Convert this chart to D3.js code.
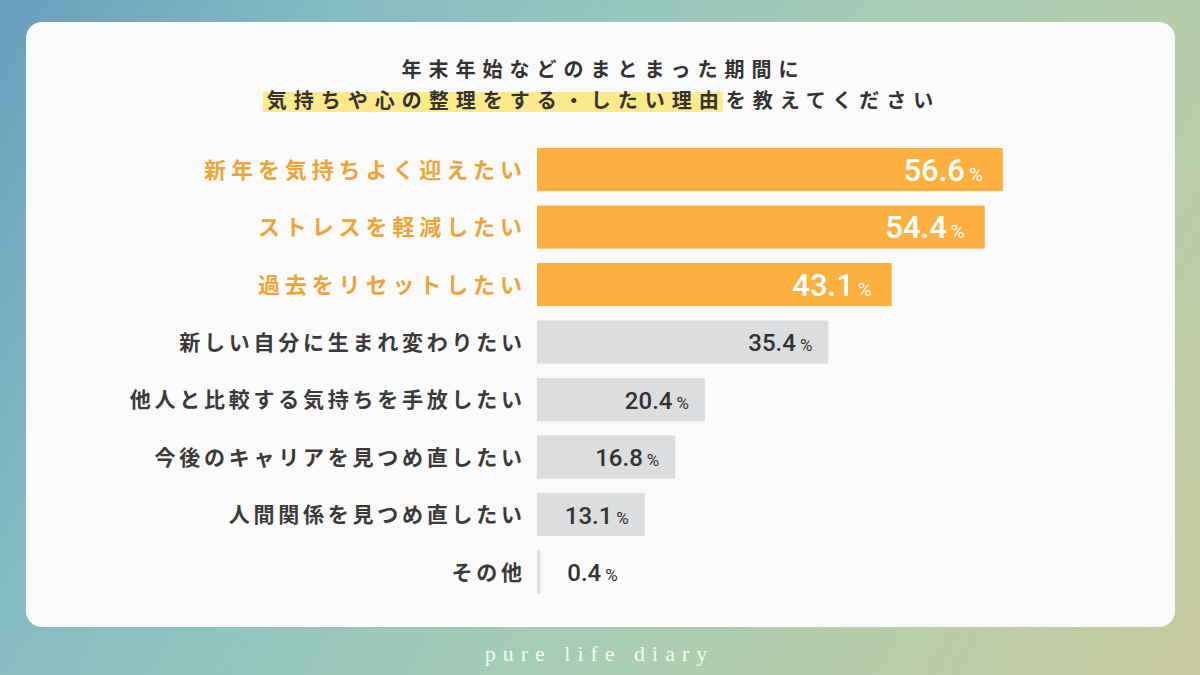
<!DOCTYPE html>
<html><head><meta charset="utf-8">
<script src="https://cdn.jsdelivr.net/npm/d3@7"></script>
<style>
html,body{margin:0;padding:0;width:1200px;height:675px;overflow:hidden;}
svg{display:block;}
</style></head>
<body>
<svg id="chart" width="1200" height="675"></svg>
<script>
const titleLine1 = "年末年始などのまとまった期間に";
const titleHighlight = "気持ちや心の整理をする・したい理由";
const titleRest = "を教えてください";
const categories = [
  "新年を気持ちよく迎えたい",
  "ストレスを軽減したい",
  "過去をリセットしたい",
  "新しい自分に生まれ変わりたい",
  "他人と比較する気持ちを手放したい",
  "今後のキャリアを見つめ直したい",
  "人間関係を見つめ直したい",
  "その他"
];
const values = [56.6, 54.4, 43.1, 35.4, 20.4, 16.8, 13.1, 0.4];
const highlighted = [true, true, true, false, false, false, false, false];
const footerText = "pure life diary";

const svg = d3.select("#chart");
const defs = svg.append("defs");
const bg = defs.append("linearGradient").attr("id","bg")
  .attr("gradientUnits","userSpaceOnUse").attr("x1",0).attr("y1",0).attr("x2",1200).attr("y2",675);
[[0,"#6a9dbd"],[0.22,"#86bcc4"],[0.4,"#96c6bd"],[0.6,"#a8cdb4"],[0.78,"#b6cda9"],[1,"#c7c99b"]]
  .forEach(([o,c])=>bg.append("stop").attr("offset",o).attr("stop-color",c));
svg.append("rect").attr("width",1200).attr("height",675).attr("fill","url(#bg)");

// card
svg.append("rect").attr("x",26).attr("y",22).attr("width",1149).attr("height",605)
  .attr("rx",16).attr("fill","#fafafa");

// title
const tFont = "'Noto Sans CJK JP', sans-serif";
svg.append("text").attr("x",600+3.5).attr("y",77).attr("text-anchor","middle")
  .attr("font-family",tFont).attr("font-weight",700).attr("font-size",20)
  .attr("letter-spacing",7).attr("fill","#333").text(titleLine1);
const hlG = svg.append("g");
const t2 = svg.append("text").attr("x",600+3.5).attr("y",108).attr("text-anchor","middle")
  .attr("font-family",tFont).attr("font-weight",700).attr("font-size",20)
  .attr("letter-spacing",7).attr("fill","#333").text(titleHighlight + titleRest);
const hx0 = t2.node().getStartPositionOfChar(0).x;
const hx1 = t2.node().getEndPositionOfChar(titleHighlight.length-1).x - 7;
hlG.append("rect").attr("x",hx0-4).attr("y",92).attr("width",hx1-hx0+8).attr("height",20)
  .attr("fill","#fbe98c");

// scales
const x = d3.scaleLinear().domain([0,100]).range([537,537+823]);
const y = d3.scaleBand().domain(categories).range([140.8,600.8]).paddingInner(0.25).paddingOuter(0.125);

const orange = "#fdb040", orangeText = "#eba63b", grayBar = "#dcdddf", grayText = "#3a3a3a";
const data = categories.map((c,i)=>({c, v:values[i], h:highlighted[i]}));

svg.append("g").selectAll("rect").data(data).join("rect")
  .attr("x",x(0)).attr("y",d=>y(d.c)).attr("width",d=>x(d.v)-x(0)).attr("height",y.bandwidth())
  .attr("fill",d=>d.h?orange:grayBar);

// category labels
svg.append("g").selectAll("text").data(data).join("text")
  .attr("x",d=>522+(d.h?4.9:3.75)).attr("y",d=>y(d.c)+y.bandwidth()/2+(d.h?8:7.5))
  .attr("text-anchor","end").attr("font-family",tFont).attr("font-weight",700)
  .attr("font-size",d=>d.h?22:21).attr("letter-spacing",d=>d.h?4.9:3.75)
  .attr("fill",d=>d.h?orangeText:grayText).text(d=>d.c);

// value labels
svg.append("g").selectAll("text").data(data).join("text")
  .attr("font-family","Roboto, sans-serif").attr("font-weight",500)
  .attr("fill",d=>d.h?"#ffffff":"#333333")
  .each(function(d){
    const inside = x(d.v)-x(0) > 60;
    const sel = d3.select(this)
      .attr("text-anchor", inside?"end":"start")
      .attr("x", inside ? x(d.v) - (d.h?20:16) : x(d.v)+27)
      .attr("y", y(d.c)+y.bandwidth()/2 + (d.h?11:9));
    sel.append("tspan").attr("font-size", d.h?31:24).text(d.v.toFixed(1));
    sel.append("tspan").attr("dx",4).attr("font-size", d.h?19:17).attr("font-weight",400).text("%");
  });

// footer
svg.append("text").attr("x",596+3.5).attr("y",661).attr("text-anchor","middle")
  .attr("font-family","'Liberation Serif', 'DejaVu Serif', serif").attr("font-size",22)
  .attr("letter-spacing",7).attr("fill","#ffffff").attr("fill-opacity",0.92).text(footerText);
</script>
</body></html>
